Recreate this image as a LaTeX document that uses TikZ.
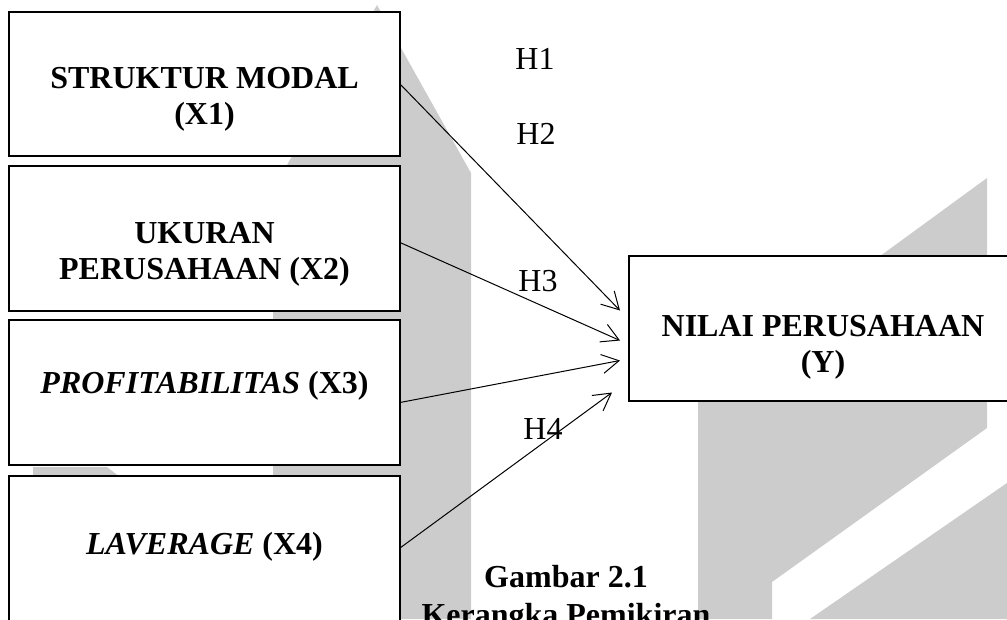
\documentclass[tikz,border=0pt]{standalone}
\usepackage{fontspec}
\setmainfont{Liberation Serif}
\usepackage{xcolor}
\usetikzlibrary{arrows.meta, positioning}
\definecolor{wmgray}{HTML}{CCCCCC}

\begin{document}
\begin{tikzpicture}[x=1pt, y=-1pt,
    box/.style={draw, line width=2pt, fill=white, inner sep=0pt, outer sep=0pt, minimum width=391pt, minimum height=145pt},
    judul/.style={font=\fontsize{32}{36}\selectfont\bfseries, align=center, inner sep=0pt, anchor=north},
    hipo/.style={font=\fontsize{32}{36}\selectfont, inner sep=0pt, anchor=north},
    panah/.style={-{Straight Barb[length=17pt, width=19pt]}, line width=1pt}]
        \useasboundingbox (0,0) rectangle (1007,619);
        \clip (0,0) rectangle (1007,619);

        % 背景水印
        \fill[wmgray] (377,5) -- (471,173) -- (471,619) -- (273,619) -- (273,190) -- cycle;
        \fill[wmgray] (33,467) -- (107,467) -- (125,481) -- (33,481) -- cycle;
        \fill[wmgray] (987,178) -- (987,428) -- (772,582) -- (772,619) -- (698,619) -- (698,389) -- cycle;
        \fill[wmgray] (1007,483) -- (1007,619) -- (810,619) -- cycle;

        % 左侧四个变量框
        \node[box, minimum height=144pt, anchor=north west] (modal) at (9,12) {};
        \node[box, below=10pt of modal] (ukuran) {};
        \node[box, below=9pt of ukuran] (profit) {};
        \node[box, minimum height=150pt, below=11pt of profit] (leverage) {};
        \node[box, minimum width=388pt, anchor=north west] (nilai) at (629,256) {};

        \node[judul] (tmodal) at ([yshift=-55pt]modal.north) {STRUKTUR MODAL\\(X1)};
        \node[judul] (tukuran) at ([yshift=-56pt]ukuran.north) {UKURAN\\PERUSAHAAN (X2)};
        \node[judul] (tprofit) at ([yshift=-51pt]profit.north) {\textit{PROFITABILITAS} (X3)};
        \node[judul] (tleverage) at ([yshift=-56pt]leverage.north) {\textit{LAVERAGE} (X4)};
        \node[judul] (tnilai) at ([yshift=-59pt]nilai.north) {NILAI PERUSAHAAN\\(Y)};

        % 假设标签
        \node[hipo] (h1) at (535,48) {H1};
        \node[hipo] (h2) at (536,123) {H2};
        \node[hipo] (h3) at (538,270) {H3};
        \node[hipo] (h4) at (543,418) {H4};

        \draw[panah] (modal.east) -- ([xshift=-9pt, yshift=18pt]nilai.west);
        \draw[panah] ([yshift=-4pt]ukuran.east) -- ([xshift=-9pt, yshift=-12pt]nilai.west);
        \draw[panah] ([yshift=-10pt]profit.east) -- ([xshift=-9pt, yshift=-32pt]nilai.west);
        \draw[panah] ([yshift=3pt]leverage.east) -- ([xshift=-17pt, yshift=-64pt]nilai.west);

        \node[judul, font=\fontsize{32}{38}\selectfont\bfseries] (gambar) at (566,565) {Gambar 2.1\\Kerangka Pemikiran};
    \end{tikzpicture}
\end{document}
